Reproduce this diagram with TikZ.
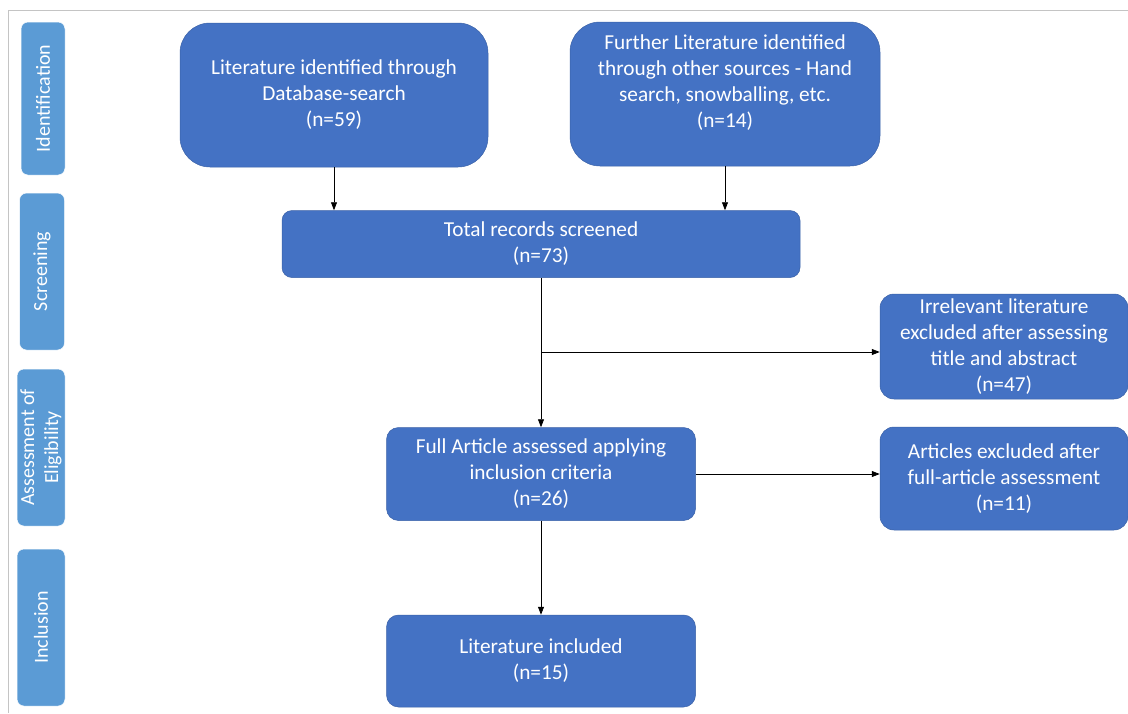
\documentclass[tikz,border=0pt]{standalone}
\usepackage{fontspec}
\setmainfont{Carlito}
\usetikzlibrary{arrows.meta,positioning}
\definecolor{boxblue}{HTML}{4472C4}
\definecolor{barblue}{HTML}{5B9BD5}
\definecolor{framegray}{HTML}{C4C4C4}
\tikzset{
	stage/.style={fill=boxblue, draw=boxblue!85!black, line width=0.5pt, text=white, align=center,
		inner sep=0pt, font=\fontsize{21.3}{26}\selectfont},
	phase/.style={fill=barblue, draw=white, line width=0.5pt, rounded corners=7pt, text=white, align=center,
		rotate=90, inner sep=0pt, font=\fontsize{20}{24}\selectfont},
	flow/.style={-{Triangle[length=8pt,width=6pt]}, line width=0.8pt}
}
\begin{document}
\begin{tikzpicture}[x=1pt,y=-1pt]
	\useasboundingbox (0,0) rectangle (1128,713);
	\draw[framegray, line width=1pt] (8,713) -- (8,10) -- (1128,10);
	% phases on the left
	\node[phase, minimum width=153pt, minimum height=44pt] (ident) at (43,98.5) {Identification};
	\node[phase, minimum width=157pt, minimum height=45pt] (screen) at (42,271.5) {Screening};
	\node[phase, minimum width=157pt, minimum height=48pt] (elig) at (41,447.5) {Assessment of\\Eligibility};
	\node[phase, minimum width=157pt, minimum height=48pt] (incl) at (41,627.5) {Inclusion};
	% records
	\node[stage, rounded corners=30pt, minimum width=308pt, minimum height=144pt] (lit) at (334,95)
		{Literature identified through\\Database-search\\(n=59)};
	\node[stage, rounded corners=30pt, minimum width=310pt, minimum height=144pt] (further) at (725,94) {};
	\node[text=white, align=center, inner sep=0pt, font=\fontsize{21.3}{26}\selectfont] (furthertext)
		at ([yshift=11pt]further.center)
		{Further Literature identified\\through other sources - Hand\\search, snowballing, etc.\\(n=14)};
	\node[stage, rounded corners=10pt, minimum width=518pt, minimum height=67pt] (total) at (541,244)
		{Total records screened\\(n=73)};
	\node[stage, rounded corners=14pt, minimum width=248pt, minimum height=105pt] (irrel) at (1004,346.5)
		{Irrelevant literature\\excluded after assessing\\title and abstract\\(n=47)};
	\node[stage, rounded corners=12pt, minimum width=309pt, minimum height=93pt] (full) at (541,474)
		{Full Article assessed applying\\inclusion criteria\\(n=26)};
	\node[stage, rounded corners=14pt, minimum width=248pt, minimum height=103pt] (artex) at (1004,478.5)
		{Articles excluded after\\full-article assessment\\(n=11)};
	\node[stage, rounded corners=12pt, minimum width=309pt, minimum height=92pt] (included) at (541,661)
		{Literature included\\(n=15)};
	% connectors
	\draw[flow] (lit.south) -- (lit.south |- total.north);
	\draw[flow] (further.south) -- (further.south |- total.north);
	\draw[flow] (total.south) -- (full.north);
	\coordinate (branch) at (541,352);
	\draw[flow] (branch) -- (branch -| irrel.west);
	\draw[flow] (full.east) -- (full.east -| artex.west);
	\draw[flow] (full.south) -- (included.north);
\end{tikzpicture}
\end{document}
